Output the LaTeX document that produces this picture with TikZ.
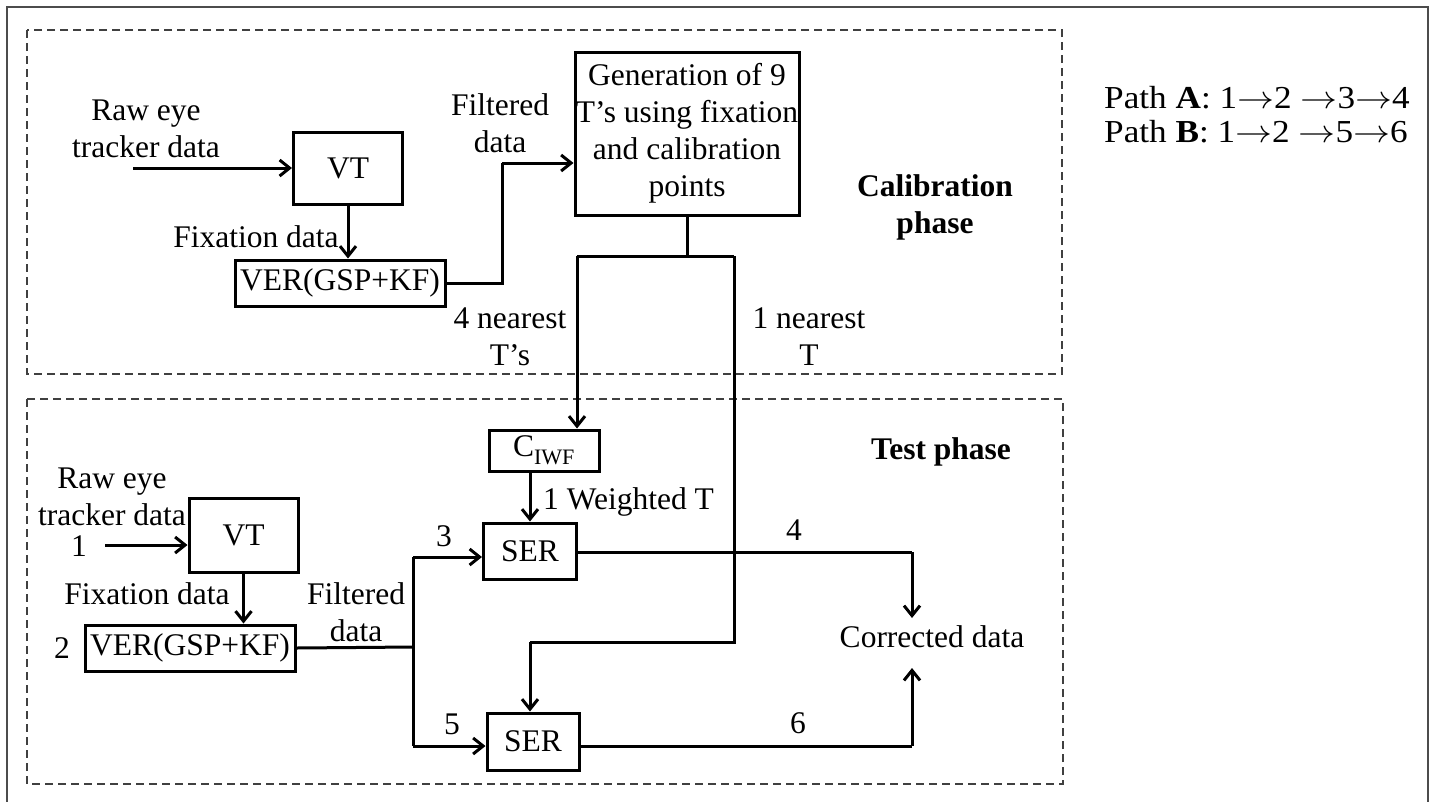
\RequirePackage{fix-cm}
\documentclass[tikz,border=0pt]{standalone}
\usepackage{fontspec}
\setmainfont{Liberation Serif}
\usetikzlibrary{arrows.meta}
\newcommand{\pathto}{\scalebox{1.05}[1]{\ensuremath{{\rightarrow}}}}
\tikzset{
  blk/.style={draw, line width=3pt, inner sep=0pt, align=center},
  lbl/.style={inner sep=0pt, align=center},
  wire/.style={line width=3pt},
  flow/.style={line width=3pt, -{Straight Barb[length=10pt,width=16pt,line width=3pt]}},
  phase/.style={draw=black!75, line width=1.4pt, dash pattern=on 8pt off 5pt},
  legend/.style={inner sep=0pt, anchor=west, font=\fontsize{32}{34}\selectfont},
}
\begin{document}
\begin{tikzpicture}[x=1pt,y=-1pt,font=\fontsize{31.5}{37}\selectfont]
\useasboundingbox (0,0) rectangle (1432,801);
\fill[white] (0,0) rectangle (1432,801);
% outer frame
\draw[black!70, line width=2pt] (7,810) -- (7,7) -- (1428,7) -- (1428,810);
% phase regions
\draw[phase] (27,30) rectangle (1062,374);
\draw[phase] (27,399) rectangle (1063,784);

% ---- calibration phase ----
\node[blk, minimum width=109pt, minimum height=72pt] (vt1) at (348,168) {VT};
\node[blk, minimum width=210pt, minimum height=46pt] (ver1) at (340,283) {VER(GSP+KF)};
\node[blk, minimum width=224pt, minimum height=163pt] (gen) at (687,133.5)
  {Generation of 9\\T’s using fixation\\and calibration\\points};
\node[lbl] (raw1) at (146,128.5) {Raw eye\\tracker data};
\node[lbl] (fix1) at (256,237) {Fixation data};
\node[lbl] (filt1) at (500,123) {Filtered\\data};
\node[lbl] (near4) at (510,336.5) {4 nearest\\T’s};
\node[lbl] (near1) at (809,336.5) {1 nearest\\T};
\node[lbl, font=\fontsize{31.5}{37}\selectfont\bfseries] (calib) at (935,207) {Calibration\\phase};

\coordinate (in1) at (133,168);
\coordinate (bend1) at (502,283);
\coordinate (bend2) at (502,163);
\coordinate (split) at (687,256);
\coordinate (splitL) at (577,256);
\coordinate (splitR) at (734,256);

\draw[flow] (in1) -- (vt1.west |- in1);
\draw[flow] (vt1.south) -- (vt1.south |- ver1.north);
\draw[wire] (ver1.east) -- (bend1) -- (bend2);
\draw[flow] (bend2) -- (gen.west |- bend2);
\draw[wire] (gen.south) -- (split);
\draw[wire] (splitL) -- (splitR);

% ---- test phase ----
\node[blk, minimum width=110pt, minimum height=41pt] (ciwf) at (544,450.5) {C\textsubscript{\raisebox{-3pt}{IWF}}};
\node[blk, minimum width=93pt, minimum height=56pt] (ser1) at (530,551) {SER};
\node[blk, minimum width=109pt, minimum height=74pt] (vt2) at (243.5,535) {VT};
\node[blk, minimum width=210pt, minimum height=46pt] (ver2) at (190,648) {VER(GSP+KF)};
\node[blk, minimum width=92pt, minimum height=57pt] (ser2) at (533,741.5) {SER};
\node[lbl] (corr) at (932,637) {Corrected data};

\node[lbl] (raw2) at (112,497) {Raw eye\\tracker data};
\node[lbl] (fix2) at (147,594) {Fixation data};
\node[lbl] (filt2) at (356,612.5) {Filtered\\data};
\node[lbl] (n1) at (79,546) {1};
\node[lbl] (n2) at (62,648) {2};
\node[lbl] (n3) at (444,536) {3};
\node[lbl] (n4) at (794,530) {4};
\node[lbl] (n5) at (452,724) {5};
\node[lbl] (n6) at (798,723) {6};
\node[lbl, anchor=west] (wt) at (543,502) {1 Weighted T};
\node[lbl, font=\fontsize{31.5}{37}\selectfont\bfseries] (test) at (941,452) {Test phase};

\coordinate (in2) at (105,545);
\coordinate (fork) at (413,647);
\coordinate (forkT) at (413,557);
\coordinate (forkB) at (413,746);
\coordinate (down1) at (734,642);
\coordinate (down2) at (530,642);
\coordinate (outA) at (912,552);
\coordinate (outAend) at (912,618);
\coordinate (outB) at (912,746);
\coordinate (outBend) at (912,668);

\draw[flow] (splitL) -- (splitL |- ciwf.north);
\draw[flow] (ser1.north |- ciwf.south) -- (ser1.north);
\draw[wire] (splitR) -- (down1) -- (down2);
\draw[flow] (down2) -- (down2 |- ser2.north);
\draw[flow] (in2) -- (vt2.west |- in2);
\draw[flow] (vt2.south) -- (vt2.south |- ver2.north);
\draw[wire] (ver2.east) -- (fork);
\draw[wire] (forkT) -- (forkB);
\draw[flow] (forkT) -- (ser1.west |- forkT);
\draw[flow] (forkB) -- (ser2.west |- forkB);
\draw[wire] (ser1.east |- outA) -- (outA);
\draw[flow] (outA) -- (outAend);
\draw[wire] (ser2.east |- outB) -- (outB);
\draw[flow] (outB) -- (outBend);

% ---- path legend ----
\node[legend] (pathA) at (1104,98) {\scalebox{1.1}[1]{Path \textbf{A}: 1\pathto2 \pathto3\pathto4}};
\node[legend] (pathB) at (1104,132) {\scalebox{1.1}[1]{Path \textbf{B}: 1\pathto2 \pathto5\pathto6}};
\end{tikzpicture}
\end{document}
